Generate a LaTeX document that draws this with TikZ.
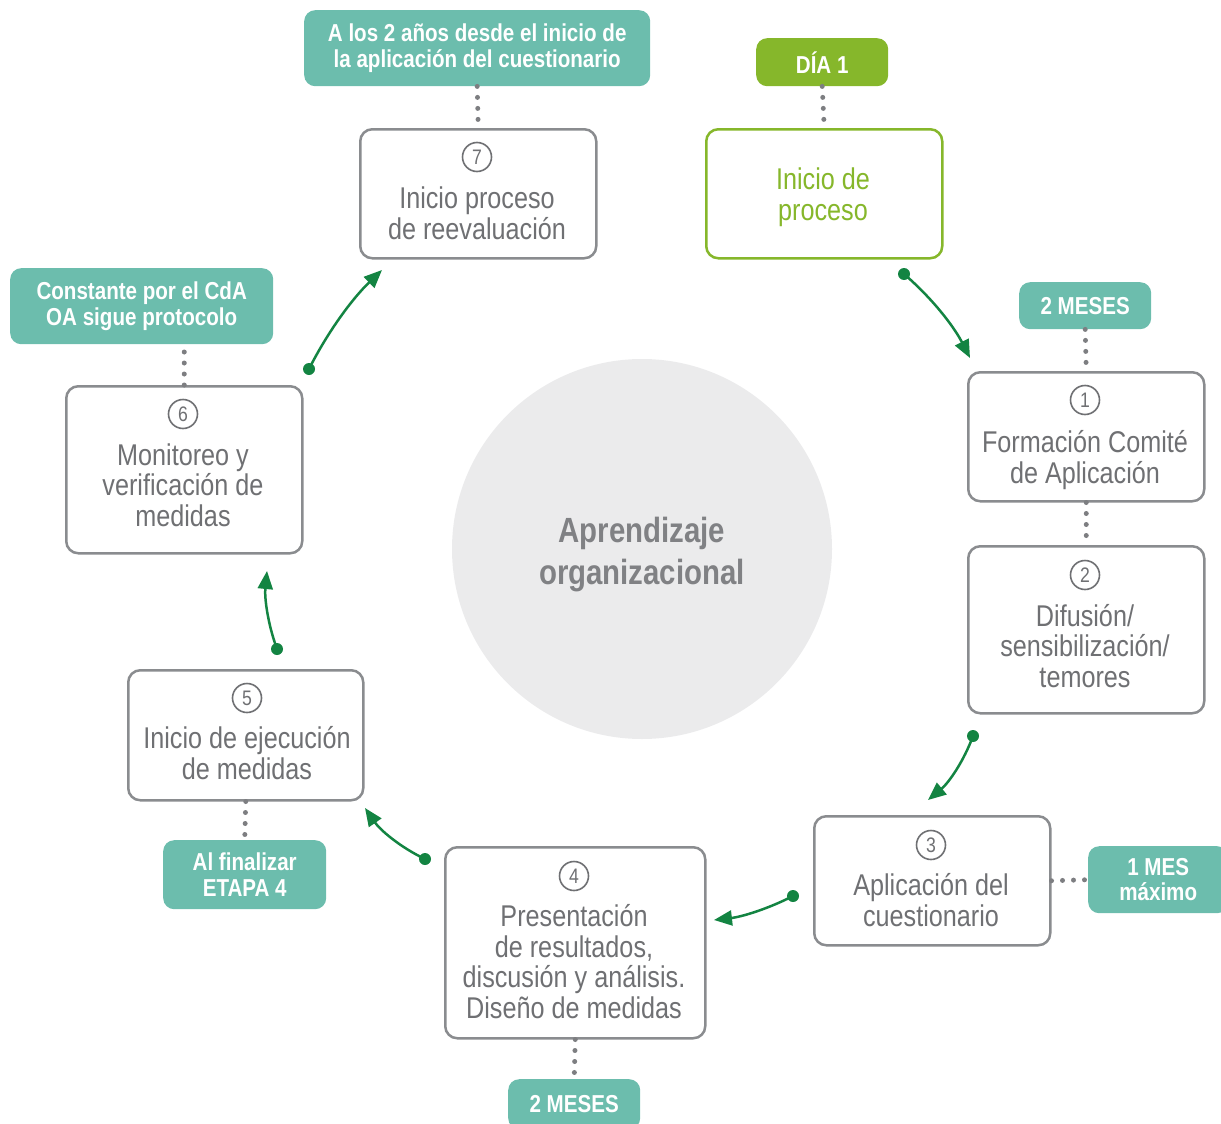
\documentclass[tikz,border=0pt]{standalone}
\usepackage{fontspec}
\setmainfont[FakeStretch=0.84]{Liberation Sans}
\usetikzlibrary{arrows.meta}
\definecolor{teal}{HTML}{6CBDAD}
\definecolor{lime}{HTML}{86B72B}
\definecolor{dgreen}{HTML}{138442}
\definecolor{boxgray}{HTML}{8A8C8F}
\definecolor{txtgray}{HTML}{6F7073}
\definecolor{cfill}{HTML}{EBEBEC}
\definecolor{ctext}{HTML}{808184}
\definecolor{dotgray}{HTML}{7D7E81}
\tikzset{
  gbox/.style={draw=boxgray, line width=2.5pt, rounded corners=12pt, fill=white, anchor=north west, inner sep=0pt},
  lbl/.style={fill=teal, rounded corners=11pt, anchor=north west, inner sep=0pt, text=white, align=center,
    font=\fontsize{24.5}{25.5}\selectfont\bfseries},
  btxt/.style={text=txtgray, align=center, inner sep=0pt, anchor=base, font=\fontsize{30}{30.5}\selectfont},
  numc/.style={circle, draw=txtgray, line width=1.6pt, minimum size=29pt, inner sep=0pt, text=txtgray,
    font=\fontsize{21}{21}\selectfont},
  dots/.style={draw=dotgray, line width=5pt, line cap=round, dash pattern=on 0pt off 11pt},
  arr/.style={draw=dgreen, line width=2.5pt, -{Triangle[length=18pt,width=15pt]}},
  adot/.style={fill=dgreen}
}
\begin{document}
\begin{tikzpicture}[x=1pt,y=-1pt]
\useasboundingbox (0,0) rectangle (1221,1124);
% central circle
\fill[cfill] (642,549) circle (190);
\node[text=ctext, align=center, inner sep=0pt, anchor=base, font=\fontsize{35}{42}\selectfont\bfseries] (center) at (642,584) {Aprendizaje\\organizacional};

% boxes
\node[gbox, minimum width=236pt, minimum height=129pt] (b7) at (359,128) {};
\node[gbox, draw=lime, minimum width=236pt, minimum height=129pt] (b0) at (705,128) {};
\node[gbox, minimum width=236pt, minimum height=129pt] (b1) at (967,371) {};
\node[gbox, minimum width=236pt, minimum height=167pt] (b2) at (967,545) {};
\node[gbox, minimum width=236pt, minimum height=129pt] (b3) at (813,815) {};
\node[gbox, minimum width=260pt, minimum height=191pt] (b4) at (444,846) {};
\node[gbox, minimum width=235pt, minimum height=130pt] (b5) at (127,669) {};
\node[gbox, minimum width=236pt, minimum height=167pt] (b6) at (65,385) {};

% labels
\node[lbl, minimum width=346pt, minimum height=76pt] (l7) at (304,10) {A los 2 años desde el inicio de\\la aplicación del cuestionario};
\node[lbl, fill=lime, minimum width=132pt, minimum height=48pt] (l0) at (756,38) {DÍA 1};
\node[lbl, minimum width=132pt, minimum height=47pt] (l1) at (1019,282) {2 MESES};
\node[lbl, minimum width=140pt, minimum height=67pt] (l3) at (1088,846) {1 MES\\máximo};
\node[lbl, minimum width=132pt, minimum height=50pt] (l4) at (508,1079) {2 MESES};
\node[lbl, minimum width=163pt, minimum height=69pt] (l5) at (163,840) {Al finalizar\\ETAPA 4};
\node[lbl, minimum width=263pt, minimum height=76pt] (l6) at (10,268) {Constante por el CdA\\OA sigue protocolo};

% dotted connectors
\draw[dots] (l7.south) -- (b7.north);
\draw[dots] (l0.south) -- (b0.north);
\draw[dots] (l1.south) -- (b1.north);
\draw[dots] (b1.south) -- (b2.north);
\draw[dots] (b3.east) -- (l3.west);
\draw[dots] (b4.south) -- (l4.north);
\draw[dots] (b5.south) -- (l5.north);
\draw[dots] (b6.north) -- (b6.north |- l6.south);

% numbers
\node[numc] (n7) at (477,157) {7};
\node[numc] (n1) at (1085,400) {1};
\node[numc] (n2) at (1085,575) {2};
\node[numc] (n3) at (931,845) {3};
\node[numc] (n4) at (574,876) {4};
\node[numc] (n5) at (247,698) {5};
\node[numc] (n6) at (183,414) {6};

% box texts (anchor = baseline of last line)
\node[btxt] (t7) at (477,239) {Inicio proceso\\de reevaluación};
\node[btxt, text=lime] (t0) at (823,220) {Inicio de\\proceso};
\node[btxt] (t1) at (1085,483) {Formación Comité\\de Aplicación};
\node[btxt] (t2) at (1085,687) {Difusión/\\sensibilización/\\temores};
\node[btxt] (t3) at (931,926) {Aplicación del\\cuestionario};
\node[btxt] (t4) at (574,1018) {Presentación\\de resultados,\\discusión y análisis.\\Diseño de medidas};
\node[btxt] (t5) at (247,779) {Inicio de ejecución\\de medidas};
\node[btxt] (t6) at (183,526) {Monitoreo y\\verificación de\\medidas};

% arrows
\coordinate (a1s) at (904,274); \coordinate (a1e) at (970,358);
\coordinate (a2s) at (973,736); \coordinate (a2e) at (928,800);
\coordinate (a3s) at (793,896); \coordinate (a3e) at (714,920);
\coordinate (a4s) at (425,859); \coordinate (a4e) at (365,808);
\coordinate (a5s) at (277,649); \coordinate (a5e) at (267,571);
\coordinate (a6s) at (309,369); \coordinate (a6e) at (382,270);
\draw[arr] (a1s) .. controls (931.5,297.7) and (953.5,325.7) .. (a1e);
\draw[arr] (a2s) .. controls (963.7,761.4) and (948.7,782.8) .. (a2e);
\draw[arr] (a3s) .. controls (768.2,908.8) and (741.8,916.8) .. (a3e);
\draw[arr] (a4s) .. controls (400.4,847.3) and (380.4,830.3) .. (a4e);
\draw[arr] (a5s) .. controls (267.8,624) and (264.4,598) .. (a5e);
\draw[arr] (a6s) .. controls (327.8,331.7) and (352.2,298.7) .. (a6e);
\foreach \p in {a1s,a2s,a3s,a4s,a5s,a6s} \fill[adot] (\p) circle (6);
\end{tikzpicture}
\end{document}
